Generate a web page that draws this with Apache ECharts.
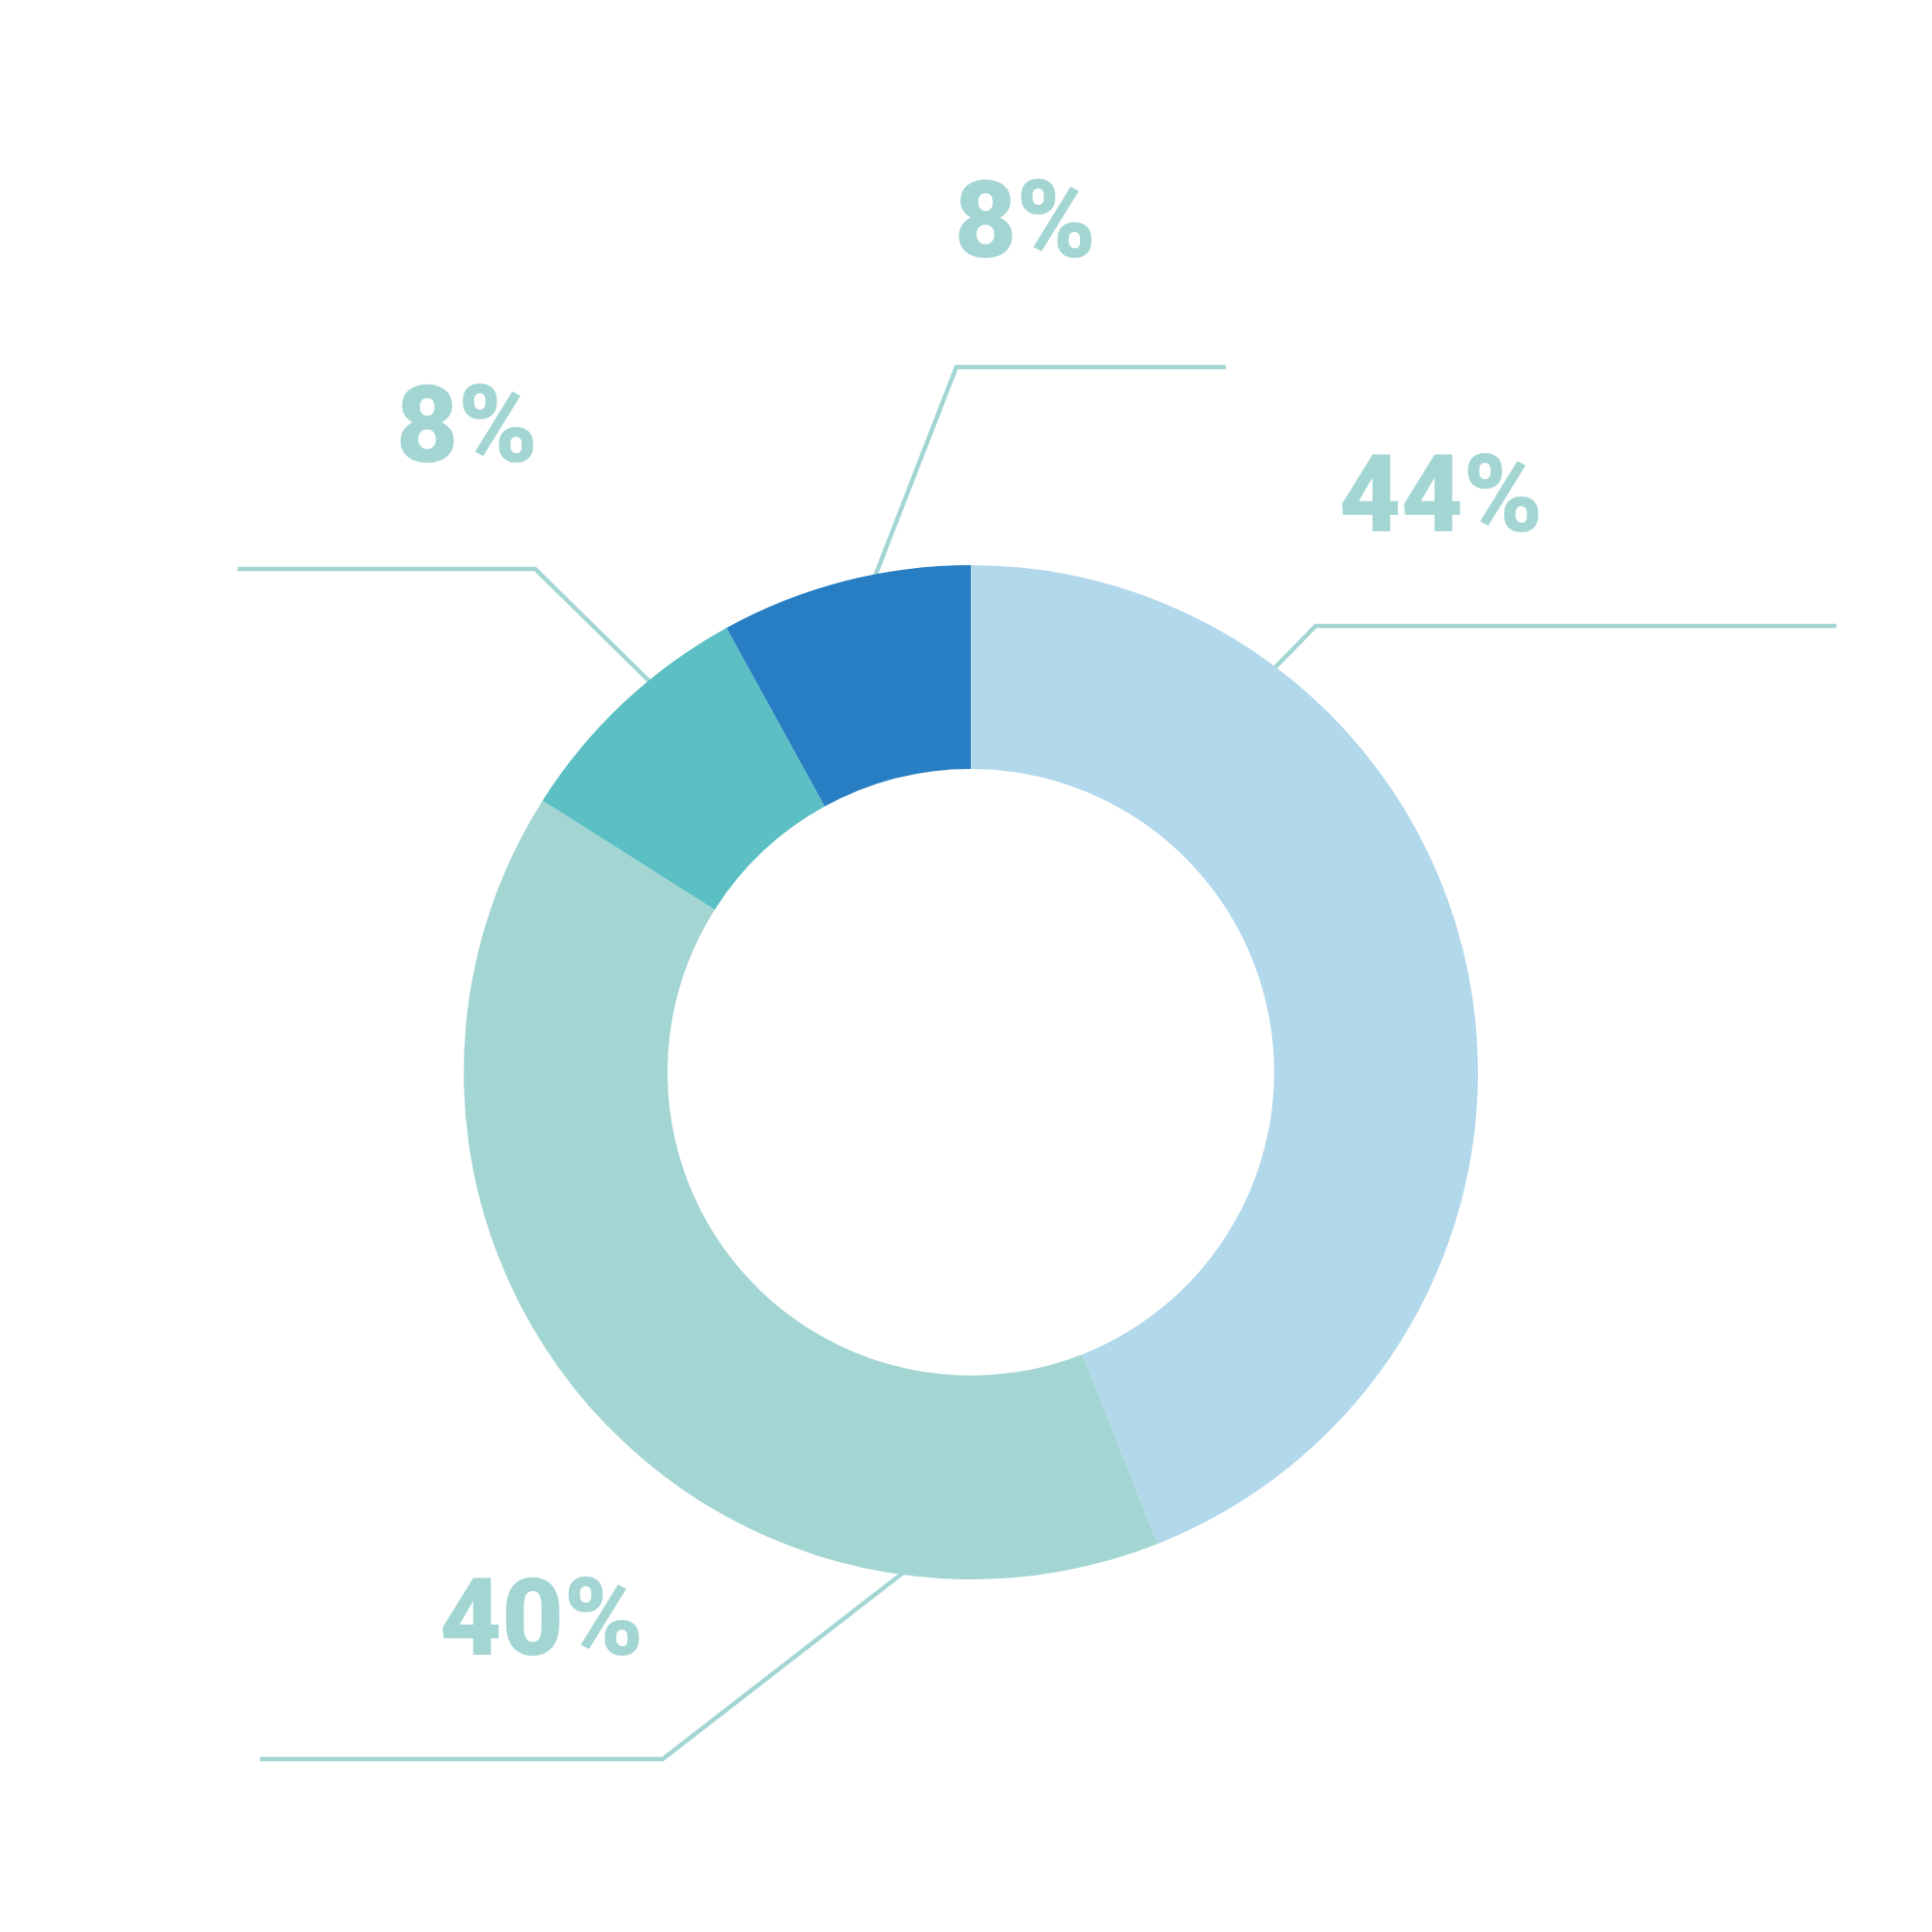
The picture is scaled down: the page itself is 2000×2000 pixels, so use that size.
<!DOCTYPE html>
<html>
<head>
<meta charset="utf-8">
<script src="https://cdn.jsdelivr.net/npm/echarts@6/dist/echarts.min.js"></script>
<style>html,body{margin:0;padding:0;background:#fff;}#c{width:2000px;height:2000px;}</style>
</head>
<body>
<div id="c"></div>
<script>
// Data
const categories = ['A', 'B', 'C', 'D'];
const values = [44, 40, 8, 8];
const colors = ['#b2d8eb', '#a3d6d3', '#5bbfc4', '#277ec2'];

// Label layout (text anchor and leader line points), per slice
const labelAnchors = [
  { x: 1386, y: 522 },
  { x: 455, y: 1685 },
  { x: 410, y: 450 },
  { x: 988, y: 238 }
];
const labelLines = [
  [[1318, 693], [1362, 648], [1901, 648]],
  [[935, 1628], [686, 1821], [269, 1821]],
  [[672, 705], [554, 589], [246, 589]],
  [[906, 596], [990, 380], [1269, 380]]
];

const chart = echarts.init(document.getElementById('c'));
chart.setOption({
  animation: false,
  backgroundColor: '#ffffff',
  series: [{
    type: 'pie',
    center: [1005, 1110],
    radius: [314, 525],
    startAngle: 90,
    clockwise: true,
    avoidLabelOverlap: false,
    data: categories.map((c, i) => ({ name: c, value: values[i], itemStyle: { color: colors[i] } })),
    label: {
      show: true,
      formatter: '{d}%',
      color: '#a3d6d3',
      fontFamily: 'Roboto',
      fontWeight: 900,
      fontSize: 111
    },
    labelLine: {
      show: true,
      length: 40,
      length2: 200,
      lineStyle: { color: '#a3d6d3', width: 4.5 }
    },
    labelLayout: function (p) {
      const i = p.dataIndex;
      return {
        x: labelAnchors[i].x,
        y: labelAnchors[i].y,
        align: 'left',
        verticalAlign: 'middle',
        labelLinePoints: labelLines[i],
        hideOverlap: false,
        moveOverlap: null
      };
    },
    emphasis: { disabled: true }
  }]
});
</script>
</body>
</html>
